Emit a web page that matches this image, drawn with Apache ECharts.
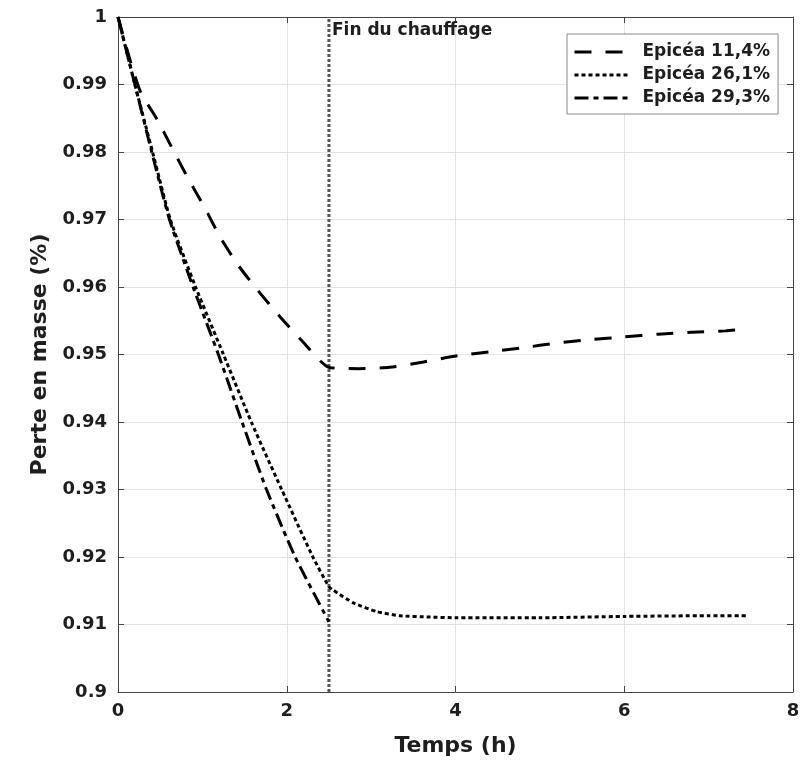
<!DOCTYPE html>
<html>
<head>
<meta charset="utf-8">
<script src="https://cdn.jsdelivr.net/npm/echarts@6/dist/echarts.min.js"></script>
<style>html,body{margin:0;padding:0;background:#fff;}#c{width:805px;height:763px;}</style>
</head>
<body>
<div id="c"></div>
<script>
// ---- data ----
const seriesNames = ['Epicéa 11,4%', 'Epicéa 26,1%', 'Epicéa 29,3%'];

const s1X = [0, 0.15, 0.27, 0.47, 0.64, 0.83, 1.03, 1.21, 1.42, 1.65, 1.92, 2.19, 2.5, 2.85, 3.22, 3.62, 4.02, 4.41, 4.8, 5.2, 5.6, 6.0, 6.4, 6.8, 7.2, 7.47];
const s1Y = [1, 0.9933, 0.9888, 0.9847, 0.9806, 0.9761, 0.9717, 0.9674, 0.9633, 0.9596, 0.9556, 0.9519, 0.9481, 0.9479, 0.9481, 0.9489, 0.9498, 0.9504, 0.9510, 0.9517, 0.9522, 0.9526, 0.9530, 0.9533, 0.9535, 0.9538];

const s2X = [0, 0.2, 0.41, 0.62, 0.92, 1.25, 1.58, 1.94, 2.31, 2.5, 2.55, 2.79, 3.07, 3.34, 3.7, 4.0, 5.0, 6.0, 7.0, 7.45];
const s2Y = [1, 0.99, 0.98, 0.97, 0.96, 0.95, 0.94, 0.93, 0.92, 0.9156, 0.9151, 0.9132, 0.9119, 0.9113, 0.9111, 0.9110, 0.9110, 0.9112, 0.9113, 0.9113];

const s3X = [0, 0.2, 0.4, 0.61, 0.89, 1.19, 1.47, 1.76, 2.10, 2.5];
const s3Y = [1, 0.99, 0.98, 0.97, 0.96, 0.95, 0.94, 0.93, 0.92, 0.9104];

const heatingEnd = 2.5;
const heatingLabel = 'Fin du chauffage';
const xTitle = 'Temps (h)';
const yTitle = 'Perte en masse (%)';

const xMin = 0, xMax = 8, xStep = 2;
const yMin = 0.9, yMax = 1, yStep = 0.01;

// ---- chart ----
const pairs = (xs, ys) => xs.map((x, i) => [x, ys[i]]);
const FONT = 'DejaVu Sans';
const TXT = '#1e1e1e';
const AX = '#444';

const chart = echarts.init(document.getElementById('c'), null, {renderer: 'canvas'});

const baseX = {
  type: 'value', min: xMin, max: xMax, interval: xStep,
  axisLine: {show: true, onZero: false, lineStyle: {color: AX, width: 1}},
  axisTick: {show: true, inside: true, length: 6, lineStyle: {color: AX}},
  splitLine: {show: false}
};
const baseY = {
  type: 'value', min: yMin, max: yMax, interval: yStep,
  axisLine: {show: true, onZero: false, lineStyle: {color: AX, width: 1}},
  axisTick: {show: true, inside: true, length: 6, lineStyle: {color: AX}},
  splitLine: {show: false}
};

const option = {
  backgroundColor: '#fff',
  animation: false,
  grid: {left: 118, top: 17, width: 675, height: 675, containLabel: false, outerBoundsMode: 'none'},
  legend: {
    data: seriesNames,
    orient: 'vertical',
    left: 567, top: 34,
    backgroundColor: '#fff',
    borderColor: '#888', borderWidth: 1,
    padding: [8, 8, 6, 6],
    itemWidth: 55, itemHeight: 12, itemGap: 3,
    itemStyle: {opacity: 0},
    lineStyle: {width: 3},
    textStyle: {fontFamily: FONT, fontWeight: 'bold', fontSize: 17, color: TXT, lineHeight: 20, padding: [0, 0, 0, 8]}
  },
  xAxis: [
    Object.assign({}, baseX, {
      position: 'bottom',
      splitLine: {show: true, lineStyle: {color: '#e3e3e3', width: 1}},
      axisLabel: {fontFamily: FONT, fontWeight: 'bold', fontSize: 18, color: TXT, margin: 10},
      name: xTitle, nameLocation: 'middle', nameGap: 43,
      nameTextStyle: {fontFamily: FONT, fontWeight: 'bold', fontSize: 22, color: TXT}
    }),
    Object.assign({}, baseX, {position: 'top', axisLabel: {show: false}})
  ],
  yAxis: [
    Object.assign({}, baseY, {
      position: 'left',
      splitLine: {show: true, lineStyle: {color: '#e3e3e3', width: 1}},
      axisLabel: {fontFamily: FONT, fontWeight: 'bold', fontSize: 18, color: TXT, margin: 11},
      name: yTitle, nameLocation: 'middle', nameGap: 64,
      nameTextStyle: {fontFamily: FONT, fontWeight: 'bold', fontSize: 22, color: TXT}
    }),
    Object.assign({}, baseY, {position: 'right', axisLabel: {show: false}})
  ],
  series: [
    {
      name: 'heating', type: 'line', symbol: 'none', silent: true,
      data: [[heatingEnd, yMin], [heatingEnd, yMax]],
      lineStyle: {color: '#555', width: 3, type: [3, 2], cap: 'butt'},
      endLabel: {show: true, formatter: heatingLabel, fontFamily: FONT, fontWeight: 'bold', fontSize: 17, color: TXT, distance: 3, offset: [0, 14]},
      z: 1
    },
    {
      name: seriesNames[0], type: 'line', symbol: 'none', smooth: 0.2,
      data: pairs(s1X, s1Y),
      itemStyle: {color: '#000'},
      lineStyle: {color: '#000', width: 3, type: [17, 14], cap: 'butt'},
      z: 3
    },
    {
      name: seriesNames[1], type: 'line', symbol: 'none', smooth: 0.2,
      data: pairs(s2X, s2Y),
      itemStyle: {color: '#000'},
      lineStyle: {color: '#000', width: 3, type: [4, 3], cap: 'butt'},
      z: 3
    },
    {
      name: seriesNames[2], type: 'line', symbol: 'none', smooth: 0.2,
      data: pairs(s3X, s3Y),
      itemStyle: {color: '#000'},
      lineStyle: {color: '#000', width: 3, type: [14, 5, 5, 5], cap: 'butt'},
      z: 3
    }
  ]
};
chart.setOption(option);
</script>
</body>
</html>
